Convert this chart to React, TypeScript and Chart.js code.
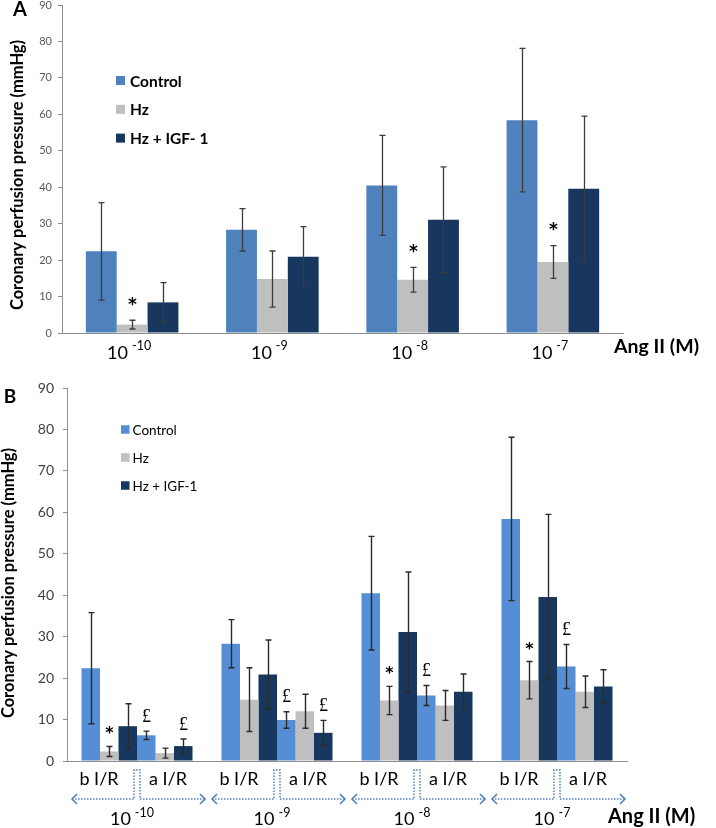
import React, { useEffect, useRef } from 'react';
import { Chart, registerables } from 'chart.js';

Chart.register(...registerables);

// ---------------- data ----------------
const exponents = ['-10', '-9', '-8', '-7'];
const tickBase = '10';
const phaseLabels = ['b I/R', 'a I/R'];
const legendNamesA = ['Control', 'Hz', 'Hz + IGF- 1'];
const legendNamesB = ['Control', 'Hz', 'Hz + IGF-1'];

const controlBefore = [22.4, 28.3, 40.5, 58.4];
const controlBeforeErr = [13.4, 5.8, 13.7, 19.7];
const hzBefore = [2.3, 14.8, 14.6, 19.5];
const hzBeforeErr = [1.2, 7.7, 3.4, 4.5];
const igfBefore = [8.4, 20.9, 31.1, 39.6];
const igfBeforeErr = [5.4, 8.3, 14.5, 19.9];

const controlAfter = [6.2, 9.9, 15.8, 22.8];
const controlAfterErr = [1.0, 2.0, 2.4, 5.3];
const hzAfter = [1.9, 12.0, 13.4, 16.7];
const hzAfterErr = [1.2, 4.1, 3.6, 3.8];
const igfAfter = [3.6, 6.8, 16.7, 18.0];
const igfAfterErr = [1.7, 3.0, 4.3, 4.0];

const hzBeforeMarks = ['*', '', '*', '*'];
const controlAfterMarks = ['£', '£', '£', '£'];
const igfAfterMarks = ['£', '£', '', ''];

const yMin = 0;
const yMax = 90;
const yStep = 10;

// ---------------- styles ----------------
const COLOR_CONTROL_A = '#4F81BD';
const COLOR_CONTROL_B = '#558ED5';
const COLOR_HZ = '#BFBFBF';
const COLOR_IGF = '#17375E';
const FONT = 'Lato, "Open Sans", sans-serif';

const errorBarPlugin = {
  id: 'errorBars',
  afterDatasetsDraw(chart: any) {
    const o = chart.options.plugins.errorBars;
    if (!o) return;
    const ctx = chart.ctx;
    const ys = chart.scales.y;
    chart.data.datasets.forEach((ds: any, i: number) => {
      const meta = chart.getDatasetMeta(i);
      meta.data.forEach((bar: any, j: number) => {
        const v = ds.data[j];
        const e = ds.err ? ds.err[j] : 0;
        const yt = ys.getPixelForValue(v + e);
        const yb = ys.getPixelForValue(v - e);
        const x = Math.round(bar.x) + 0.5;
        ctx.save();
        ctx.strokeStyle = o.color;
        ctx.lineWidth = o.width;
        ctx.beginPath();
        ctx.moveTo(x, yt);
        ctx.lineTo(x, yb);
        ctx.moveTo(x - o.cap, yt);
        ctx.lineTo(x + o.cap, yt);
        ctx.moveTo(x - o.cap, yb);
        ctx.lineTo(x + o.cap, yb);
        ctx.stroke();
        const m = ds.marks ? ds.marks[j] : '';
        if (m) {
          ctx.fillStyle = '#000';
          ctx.font = m === '£' ? o.poundFont : o.starFont;
          ctx.textAlign = 'center';
          ctx.textBaseline = 'alphabetic';
          const tm = ctx.measureText(m);
          const center = yt - o.markGap;
          const base = center - (tm.actualBoundingBoxDescent - tm.actualBoundingBoxAscent) / 2;
          ctx.fillText(m, x, base);
        }
        ctx.restore();
      });
    });
  },
};

const decorPlugin = {
  id: 'decor',
  afterDraw(chart: any) {
    const d = chart.options.plugins.decor;
    if (!d) return;
    const ctx = chart.ctx;
    const xs = chart.scales.x;
    ctx.save();
    ctx.fillStyle = '#000';

    // panel letter
    ctx.font = d.letterFont;
    ctx.textAlign = 'center';
    ctx.textBaseline = 'middle';
    ctx.fillText(d.letter, d.letterPos[0], d.letterPos[1]);

    // y title
    ctx.save();
    ctx.translate(d.yTitlePos[0], d.yTitlePos[1]);
    ctx.rotate(-Math.PI / 2);
    ctx.font = d.yTitleFont;
    ctx.textAlign = 'center';
    ctx.textBaseline = 'middle';
    ctx.fillText(d.yTitle, 0, 0);
    ctx.restore();

    // legend
    for (let i = 0; i < d.legendNames.length; i++) {
      const ds = chart.data.datasets[i];
      const cy = d.legendY0 + i * d.legendStep;
      ctx.fillStyle = ds.backgroundColor;
      ctx.fillRect(d.legendX, cy - d.legendBox / 2, d.legendBox, d.legendBox);
      ctx.fillStyle = '#000';
      ctx.font = d.legendFont;
      ctx.textAlign = 'left';
      ctx.textBaseline = 'middle';
      ctx.fillText(d.legendNames[i], d.legendX + d.legendBox + d.legendGap, cy + 1);
    }

    // x tick labels 10^exp
    const labels = chart.data.labels as string[];
    labels.forEach((lab, i) => {
      const cx = xs.getPixelForValue(i) + d.tickShift;
      ctx.font = d.tickFont;
      const w1 = ctx.measureText(tickBase).width;
      ctx.font = d.supFont;
      const w2 = ctx.measureText(lab).width;
      const total = w1 + d.supGap + w2;
      const x0 = cx - total / 2;
      ctx.fillStyle = '#000';
      ctx.textAlign = 'left';
      ctx.textBaseline = 'alphabetic';
      ctx.font = d.tickFont;
      ctx.fillText(tickBase, x0, d.tickBaseline);
      ctx.font = d.supFont;
      ctx.fillText(lab, x0 + w1 + d.supGap, d.supBaseline);
    });

    // axis name
    ctx.font = d.axisNameFont;
    ctx.textAlign = 'left';
    ctx.textBaseline = 'alphabetic';
    ctx.fillText(d.axisName, d.axisNamePos[0], d.axisNamePos[1]);

    // phases (b I/R, a I/R) with dotted arrows
    if (d.phases) {
      const p = d.phases;
      const half = (xs.right - xs.left) / labels.length / 2;
      labels.forEach((_lab, i) => {
        const cx = xs.getPixelForValue(i);
        ctx.fillStyle = '#000';
        ctx.font = p.font;
        ctx.textAlign = 'center';
        ctx.textBaseline = 'alphabetic';
        ctx.fillText(phaseLabels[0], cx + p.offsets[0], p.baseline);
        ctx.fillText(phaseLabels[1], cx + p.offsets[1], p.baseline);

        const L = cx - half + p.arrowInset;
        const R = cx + half - 2;
        const bl = cx - p.bracketHalf;
        const br = cx + p.bracketHalf;
        ctx.strokeStyle = p.color;
        ctx.lineWidth = p.width;
        ctx.setLineDash(p.dash);
        ctx.beginPath();
        ctx.moveTo(L, p.arrowY);
        ctx.lineTo(bl, p.arrowY);
        ctx.lineTo(bl, p.bracketTop);
        ctx.lineTo(br, p.bracketTop);
        ctx.lineTo(br, p.arrowY);
        ctx.lineTo(R, p.arrowY);
        ctx.stroke();
        ctx.setLineDash([]);
        ctx.lineWidth = p.headWidth;
        ctx.beginPath();
        ctx.moveTo(L + p.head, p.arrowY - p.head);
        ctx.lineTo(L, p.arrowY);
        ctx.lineTo(L + p.head, p.arrowY + p.head);
        ctx.moveTo(R - p.head, p.arrowY - p.head);
        ctx.lineTo(R, p.arrowY);
        ctx.lineTo(R - p.head, p.arrowY + p.head);
        ctx.stroke();
      });
    }
    ctx.restore();
  },
};

function baseScales(yWidth: number, xHeight: number, tickFontSize: number, tickColor: string, tickPad: number) {
  return {
    x: {
      type: 'category',
      offset: true,
      grid: { display: false },
      border: { display: true, color: '#8e8e8e', width: 1 },
      ticks: { display: false },
      afterFit: (s: any) => {
        s.height = xHeight;
      },
    },
    y: {
      min: yMin,
      max: yMax,
      ticks: {
        stepSize: yStep,
        font: { family: FONT, size: tickFontSize },
        color: tickColor,
        padding: tickPad,
      },
      grid: { drawOnChartArea: false, drawTicks: true, tickLength: 4, color: '#8e8e8e' },
      border: { display: true, color: '#8e8e8e', width: 1 },
      afterFit: (s: any) => {
        s.width = yWidth;
        s.paddingTop = 0;
        s.paddingBottom = 0;
      },
    },
  };
}

function PanelA() {
  const ref = useRef<HTMLCanvasElement>(null);
  useEffect(() => {
    if (!ref.current) return;
    const chart = new Chart(ref.current, {
      type: 'bar',
      data: {
        labels: exponents,
        datasets: [
          { label: legendNamesA[0], data: controlBefore, err: controlBeforeErr, backgroundColor: COLOR_CONTROL_A },
          { label: legendNamesA[1], data: hzBefore, err: hzBeforeErr, marks: hzBeforeMarks, backgroundColor: COLOR_HZ },
          { label: legendNamesA[2], data: igfBefore, err: igfBeforeErr, backgroundColor: COLOR_IGF },
        ] as any,
      },
      options: {
        responsive: false,
        animation: false,
        devicePixelRatio: 1,
        datasets: { bar: { barPercentage: 1, categoryPercentage: 0.66, borderWidth: 0 } },
        layout: { padding: { left: 0, right: 93, top: 5, bottom: 0 } },
        scales: baseScales(62, 37, 11, '#595959', 6) as any,
        plugins: {
          legend: { display: false },
          tooltip: { enabled: false },
          errorBars: {
            color: '#3c3c3c', width: 1.3, cap: 3, markGap: 19,
            starFont: 'bold 17px "DejaVu Sans", sans-serif', poundFont: '17px "Liberation Serif", serif',
          },
          decor: {
            letter: 'A', letterPos: [20, 10], letterFont: `bold 20px ${FONT}`,
            yTitle: 'Coronary perfusion pressure (mmHg)', yTitlePos: [18, 175], yTitleFont: `bold 16.5px ${FONT}`,
            legendNames: legendNamesA, legendX: 116, legendY0: 80.5, legendStep: 28.8, legendBox: 9, legendGap: 5,
            legendFont: `bold 15.5px ${FONT}`,
            tickFont: `18px ${FONT}`, supFont: `12.5px ${FONT}`, supGap: 4, tickShift: -3,
            tickBaseline: 359, supBaseline: 350,
            axisName: 'Ang II (M)', axisNamePos: [614, 353], axisNameFont: `bold 19.5px ${FONT}`,
          },
        } as any,
      },
      plugins: [errorBarPlugin, decorPlugin],
    });
    return () => chart.destroy();
  }, []);
  return <canvas ref={ref} width={716} height={370} style={{ display: 'block', width: 716, height: 370 }} />;
}

function PanelB() {
  const ref = useRef<HTMLCanvasElement>(null);
  useEffect(() => {
    if (!ref.current) return;
    const chart = new Chart(ref.current, {
      type: 'bar',
      data: {
        labels: exponents,
        datasets: [
          { label: legendNamesB[0] + ' ' + phaseLabels[0], data: controlBefore, err: controlBeforeErr, backgroundColor: COLOR_CONTROL_B },
          { label: legendNamesB[1] + ' ' + phaseLabels[0], data: hzBefore, err: hzBeforeErr, marks: hzBeforeMarks, backgroundColor: COLOR_HZ },
          { label: legendNamesB[2] + ' ' + phaseLabels[0], data: igfBefore, err: igfBeforeErr, backgroundColor: COLOR_IGF },
          { label: legendNamesB[0] + ' ' + phaseLabels[1], data: controlAfter, err: controlAfterErr, marks: controlAfterMarks, backgroundColor: COLOR_CONTROL_B },
          { label: legendNamesB[1] + ' ' + phaseLabels[1], data: hzAfter, err: hzAfterErr, backgroundColor: COLOR_HZ },
          { label: legendNamesB[2] + ' ' + phaseLabels[1], data: igfAfter, err: igfAfterErr, marks: igfAfterMarks, backgroundColor: COLOR_IGF },
        ] as any,
      },
      options: {
        responsive: false,
        animation: false,
        devicePixelRatio: 1,
        datasets: { bar: { barPercentage: 1, categoryPercentage: 0.793, borderWidth: 0 } },
        layout: { padding: { left: 0, right: 89, top: 18, bottom: 0 } },
        scales: baseScales(67, 67, 14, '#404040', 9) as any,
        plugins: {
          legend: { display: false },
          tooltip: { enabled: false },
          errorBars: {
            color: '#2a2a2a', width: 1.4, cap: 3, markGap: 16,
            starFont: 'bold 16px "DejaVu Sans", sans-serif', poundFont: '18px "Liberation Serif", serif',
          },
          decor: {
            letter: 'B', letterPos: [10, 27], letterFont: `bold 19px ${FONT}`,
            yTitle: 'Coronary perfusion pressure (mmHg)', yTitlePos: [9, 213], yTitleFont: `bold 16.5px ${FONT}`,
            legendNames: legendNamesB, legendX: 121, legendY0: 59.5, legendStep: 28, legendBox: 8.5, legendGap: 3,
            legendFont: `13.5px ${FONT}`,
            tickFont: `18px ${FONT}`, supFont: `12.5px ${FONT}`, supGap: 4, tickShift: -5,
            tickBaseline: 455, supBaseline: 447,
            axisName: 'Ang II (M)', axisNamePos: [608, 453], axisNameFont: `bold 20px ${FONT}`,
            phases: {
              font: `18px ${FONT}`, baseline: 415, offsets: [-38, 31],
              arrowY: 429, bracketTop: 400, bracketHalf: 3, arrowInset: 5,
              color: '#4F81BD', width: 1.5, dash: [1.5, 1.5], head: 5, headWidth: 1.6,
            },
          },
        } as any,
      },
      plugins: [errorBarPlugin, decorPlugin],
    });
    return () => chart.destroy();
  }, []);
  return <canvas ref={ref} width={716} height={458} style={{ display: 'block', width: 716, height: 458 }} />;
}

export default function App() {
  return (
    <div style={{ position: 'absolute', left: 0, top: 0, width: 716, height: 828, background: '#fff' }}>
      <PanelA />
      <PanelB />
    </div>
  );
}
